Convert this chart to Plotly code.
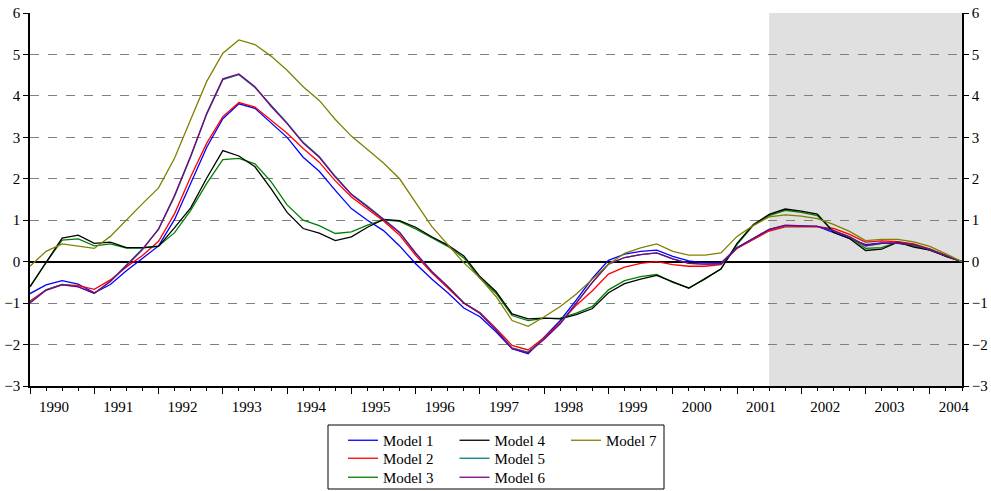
import plotly.graph_objects as go
import pandas as pd

quarters = pd.period_range("1990Q1", "2004Q3", freq="Q")
x_vals = [p.year + (p.quarter - 1) / 4 for p in quarters]
year_ticks = list(range(1990, 2005))
year_labels = [str(y) for y in year_ticks]
y_ticks = list(range(-3, 7))
grid_vals = list(range(-2, 6))
forecast_start = 2001.5
forecast_end = 2004.5

model1 = [-0.77, -0.56, -0.46, -0.54, -0.75, -0.55, -0.22, 0.09, 0.38, 1.02, 1.88, 2.76, 3.45, 3.81, 3.70,
          3.35, 3.00, 2.52, 2.18, 1.72, 1.28, 1.00, 0.75, 0.38, -0.05, -0.42, -0.75, -1.12, -1.33, -1.69,
          -2.10, -2.22, -1.82, -1.42, -0.92, -0.40, 0.03, 0.18, 0.25, 0.28, 0.13, 0.02, -0.03, -0.03, 0.34,
          0.56, 0.77, 0.87, 0.85, 0.85, 0.70, 0.56, 0.41, 0.45, 0.44, 0.39, 0.28, 0.14, 0.00]
model2 = [-0.95, -0.68, -0.55, -0.58, -0.67, -0.44, -0.13, 0.15, 0.49, 1.16, 2.05, 2.86, 3.50, 3.84, 3.73,
          3.42, 3.10, 2.73, 2.40, 1.95, 1.56, 1.27, 0.98, 0.64, 0.15, -0.27, -0.64, -1.00, -1.23, -1.61,
          -2.02, -2.13, -1.83, -1.47, -1.05, -0.70, -0.30, -0.13, -0.04, 0.00, -0.07, -0.11, -0.11, -0.07, 0.32,
          0.53, 0.74, 0.84, 0.84, 0.84, 0.80, 0.66, 0.47, 0.50, 0.48, 0.43, 0.31, 0.15, 0.00]
model3 = [-0.60, -0.02, 0.52, 0.55, 0.38, 0.43, 0.33, 0.33, 0.38, 0.70, 1.24, 1.89, 2.46, 2.49, 2.36,
          1.93, 1.37, 1.00, 0.87, 0.68, 0.72, 0.88, 1.01, 0.97, 0.79, 0.57, 0.37, 0.09, -0.40, -0.76,
          -1.30, -1.42, -1.37, -1.36, -1.24, -1.08, -0.68, -0.46, -0.36, -0.31, -0.50, -0.63, -0.42, -0.17, 0.41,
          0.87, 1.11, 1.24, 1.19, 1.11, 0.74, 0.59, 0.32, 0.34, 0.47, 0.38, 0.30, 0.13, 0.00]
model4 = [-0.61, -0.02, 0.57, 0.64, 0.44, 0.47, 0.34, 0.34, 0.37, 0.82, 1.30, 2.02, 2.68, 2.55, 2.29,
          1.76, 1.19, 0.80, 0.69, 0.51, 0.60, 0.83, 1.02, 0.99, 0.83, 0.60, 0.40, 0.14, -0.36, -0.72,
          -1.26, -1.38, -1.36, -1.38, -1.28, -1.13, -0.75, -0.53, -0.42, -0.33, -0.48, -0.64, -0.41, -0.18, 0.44,
          0.89, 1.14, 1.27, 1.22, 1.15, 0.71, 0.56, 0.27, 0.30, 0.47, 0.35, 0.28, 0.13, 0.00]
model5 = [-0.98, -0.68, -0.55, -0.60, -0.77, -0.47, -0.08, 0.31, 0.78, 1.58, 2.53, 3.56, 4.39, 4.51, 4.20,
          3.77, 3.35, 2.88, 2.54, 2.06, 1.63, 1.34, 1.03, 0.71, 0.21, -0.23, -0.60, -0.99, -1.24, -1.64,
          -2.08, -2.18, -1.86, -1.49, -0.99, -0.50, -0.06, 0.10, 0.17, 0.21, 0.07, -0.04, -0.06, -0.05, 0.33,
          0.56, 0.78, 0.87, 0.86, 0.85, 0.75, 0.60, 0.38, 0.44, 0.45, 0.41, 0.29, 0.14, 0.00]
model6 = [-1.00, -0.69, -0.56, -0.61, -0.76, -0.48, -0.10, 0.29, 0.79, 1.60, 2.55, 3.58, 4.41, 4.53, 4.22,
          3.75, 3.33, 2.86, 2.52, 2.04, 1.62, 1.33, 1.02, 0.70, 0.20, -0.24, -0.60, -1.00, -1.25, -1.65,
          -2.10, -2.20, -1.87, -1.50, -1.00, -0.50, -0.06, 0.10, 0.17, 0.21, 0.07, -0.04, -0.06, -0.05, 0.33,
          0.56, 0.78, 0.88, 0.86, 0.85, 0.75, 0.60, 0.38, 0.44, 0.45, 0.41, 0.29, 0.14, 0.00]
model7 = [-0.11, 0.25, 0.43, 0.38, 0.32, 0.61, 1.01, 1.40, 1.78, 2.50, 3.43, 4.35, 5.03, 5.35, 5.24,
          4.96, 4.62, 4.22, 3.89, 3.43, 3.03, 2.71, 2.38, 2.00, 1.42, 0.85, 0.41, -0.03, -0.39, -0.84,
          -1.42, -1.56, -1.33, -1.08, -0.78, -0.41, -0.06, 0.20, 0.33, 0.43, 0.25, 0.16, 0.16, 0.21, 0.61,
          0.87, 1.08, 1.13, 1.10, 1.04, 0.90, 0.73, 0.51, 0.54, 0.54, 0.48, 0.37, 0.19, 0.00]

# legend rows: row 1 = Models 1,4,7 ; row 2 = Models 2,5 ; row 3 = Models 3,6
series = [
    ("Model 1", model1, "#0000ff", "legend"),
    ("Model 2", model2, "#ff0000", "legend2"),
    ("Model 3", model3, "#008000", "legend3"),
    ("Model 4", model4, "#000000", "legend"),
    ("Model 5", model5, "#008080", "legend2"),
    ("Model 6", model6, "#800080", "legend3"),
    ("Model 7", model7, "#808000", "legend"),
]

FONT = "Liberation Serif"
fig = go.Figure()
for name, vals, color, leg in series:
    fig.add_trace(go.Scatter(x=x_vals, y=vals, mode="lines", name=name,
                             line=dict(color=color, width=1.3), legend=leg))
# invisible trace to carry the right-hand axis
fig.add_trace(go.Scatter(x=[x_vals[0]], y=[0], yaxis="y2", mode="lines",
                         line=dict(width=0), showlegend=False, hoverinfo="skip"))

fig.add_shape(type="rect", xref="x", yref="y", x0=forecast_start, x1=forecast_end,
              y0=y_ticks[0], y1=y_ticks[-1], fillcolor="#e0e0e0", line=dict(width=0), layer="below")

# plot area in page pixels: x 30..962, y 13..386
px_w, px_h = 932, 373
def px_to_paper_x(px):
    return (px - 30) / px_w
def px_to_paper_y(py):
    return (386 - py) / px_h

fig.add_shape(type="rect", xref="paper", yref="paper",
              x0=px_to_paper_x(328), x1=px_to_paper_x(664),
              y0=px_to_paper_y(489), y1=px_to_paper_y(425),
              line=dict(color="black", width=1), fillcolor="rgba(0,0,0,0)")

leg_common = dict(font=dict(family=FONT, size=15, color="black"), bgcolor="rgba(0,0,0,0)",
                  borderwidth=0, xanchor="left", yanchor="top", orientation="h",
                  entrywidth=66.5, entrywidthmode="pixels", tracegroupgap=0)
fig.update_layout(
    width=991, height=491,
    margin=dict(l=30, r=29, t=13, b=105, autoexpand=False),
    paper_bgcolor="white", plot_bgcolor="white",
    font=dict(family=FONT, size=15, color="black"),
    showlegend=True,
    legend=dict(x=px_to_paper_x(343), y=px_to_paper_y(424), **leg_common),
    legend2=dict(x=px_to_paper_x(343), y=px_to_paper_y(442), **leg_common),
    legend3=dict(x=px_to_paper_x(343), y=px_to_paper_y(461), **leg_common),
    xaxis=dict(range=[1990, forecast_end], tickvals=year_ticks, ticktext=year_labels,
               ticks="outside", ticklen=6, tickwidth=1, tickcolor="black",
               ticklabelshift=24, automargin=False,
               minor=dict(dtick=0.25, tick0=1990, ticks="outside", ticklen=3, tickcolor="black", tickwidth=1),
               showline=True, linecolor="black", linewidth=1.5, showgrid=False, zeroline=False,
               tickfont=dict(family=FONT, size=15, color="black")),
    yaxis=dict(range=[y_ticks[0], y_ticks[-1]], tickvals=y_ticks, ticks="outside", ticklen=5,
               tickcolor="black", showline=True, linecolor="black", linewidth=1.5, automargin=False,
               showgrid=False, zeroline=True, zerolinecolor="black", zerolinewidth=2,
               minor=dict(tickvals=grid_vals, showgrid=True, gridcolor="#808080", griddash="dash",
                          gridwidth=1, ticks=""),
               tickfont=dict(family=FONT, size=15, color="black")),
    yaxis2=dict(range=[y_ticks[0], y_ticks[-1]], tickvals=y_ticks, overlaying="y", side="right",
                ticks="outside", ticklen=5, tickcolor="black", showline=True, linecolor="black",
                linewidth=1.5, showgrid=False, zeroline=False, automargin=False,
                tickfont=dict(family=FONT, size=15, color="black")),
)
fig.write_html("out.html", config={"displayModeBar": False},
               post_script="document.body.style.margin='0px';document.body.style.overflow='hidden';")
